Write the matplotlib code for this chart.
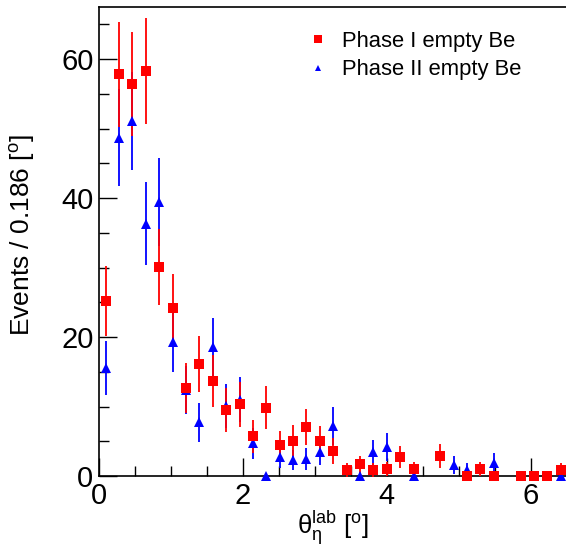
import matplotlib

matplotlib.use("Agg")
import matplotlib.pyplot as plt
import numpy as np
from matplotlib.ticker import MultipleLocator

nan = np.nan

# bin width 0.186 deg, 35 bins from 0
BIN_WIDTH = 0.186
N_BINS = 35

phase1 = [25.2, 57.8, 56.4, 58.3, 30.1, 24.2, 12.7, 16.1, 13.7, 9.5,
          10.3, 5.7, 9.8, 4.4, 5.1, 7.05, 5.0, 3.6, 0.9, 1.7,
          0.9, 1.0, 2.7, 1.0, nan, 2.9, nan, 0.0, 1.0, 0.0,
          nan, 0.0, 0.0, 0.0, 0.9]
phase1_err = [5.0, 7.6, 7.5, 7.6, 5.5, 4.9, 3.6, 4.0, 3.7, 3.2,
              3.2, 2.4, 3.1, 2.1, 2.2, 2.6, 2.2, 1.9, 1.0, 1.2,
              1.0, 1.0, 1.6, 1.0, nan, 1.7, nan, 0.0, 1.0, 0.0,
              nan, 0.0, 0.0, 0.0, 1.0]

phase2 = [15.6, 48.7, 51.1, 36.3, 39.4, 19.3, 12.4, 7.7, 18.5, 10.1,
          11.0, 4.7, 0.0, 2.7, 2.3, 2.4, 3.5, 7.2, nan, 0.0,
          3.4, 4.2, nan, 0.0, nan, nan, 1.6, 0.9, nan, 1.9,
          nan, nan, nan, nan, 0.0]
phase2_err = [3.9, 7.0, 7.1, 6.0, 6.3, 4.4, 3.5, 2.8, 4.3, 3.2,
              3.3, 2.2, 0.0, 1.6, 1.5, 1.6, 1.9, 2.7, nan, 0.0,
              1.8, 2.0, nan, 0.0, nan, nan, 1.3, 0.95, nan, 1.4,
              nan, nan, nan, nan, 0.0]

LABELS = ["Phase I empty Be", "Phase II empty Be"]

plt.rcParams["font.family"] = ["Liberation Sans", "DejaVu Sans"]
plt.rcParams["mathtext.fontset"] = "custom"
plt.rcParams["mathtext.rm"] = "Liberation Sans"
plt.rcParams["mathtext.it"] = "Liberation Sans"
plt.rcParams["mathtext.default"] = "rm"

centers = (np.arange(N_BINS) + 0.5) * BIN_WIDTH

W, H = 566, 549
fig = plt.figure(figsize=(W / 100, H / 100), dpi=100)
ax = fig.add_axes([99 / W, 73 / H, 1 - 99 / W, 469 / H])

series = [
    (phase2, phase2_err, "^", "#0000ff", 7.5),
    (phase1, phase1_err, "s", "#ff0000", 7),
]
for values, errors, marker, color, size in series:
    ax.errorbar(
        centers, values, yerr=errors, fmt=marker, color=color,
        markersize=size, markeredgewidth=0, elinewidth=1.3, capsize=0,
        clip_on=False, zorder=3,
    )

ax.set_xlim(0, 6.49)
ax.set_ylim(0, 67.5)

ax.xaxis.set_major_locator(MultipleLocator(2))
ax.xaxis.set_minor_locator(MultipleLocator(0.5))
ax.yaxis.set_major_locator(MultipleLocator(20))
ax.yaxis.set_minor_locator(MultipleLocator(5))
ax.tick_params(which="both", direction="in", top=False, right=False,
               labelsize=21, width=1)
ax.tick_params(which="major", length=13)
ax.tick_params(which="minor", length=7)
ax.tick_params(axis="x", pad=4)
ax.tick_params(axis="y", pad=4)

ax.spines["right"].set_visible(False)
for side in ["left", "bottom", "top"]:
    ax.spines[side].set_linewidth(1.2)

# axis titles placed in figure pixels, ROOT style
fig.text(333 / W, 1 - 534 / H, r"$\theta_{\eta}^{lab}$ [$^{o}$]",
         fontsize=18.5, ha="center", va="baseline")
fig.text(23 / W, 1 - 235 / H, r"Events / 0.186 [$^{o}$]",
         fontsize=19, rotation=90, ha="center", va="center")

leg_red = ax.errorbar([], [], yerr=[], fmt="s", color="#ff0000",
                      markersize=6, markeredgewidth=0)
leg_blue = ax.errorbar([], [], yerr=[], fmt="^", color="#0000ff",
                       markersize=5, markeredgewidth=0)
ax.legend(
    [leg_red[0], leg_blue[0]], LABELS, loc="upper left",
    bbox_to_anchor=(298 / W, 1 - 22 / H), bbox_transform=fig.transFigure,
    frameon=False, fontsize=15.8, handlelength=1.0, handletextpad=0.6,
    labelspacing=0.35, borderaxespad=0,
)

fig.savefig("out.png", dpi=100)
